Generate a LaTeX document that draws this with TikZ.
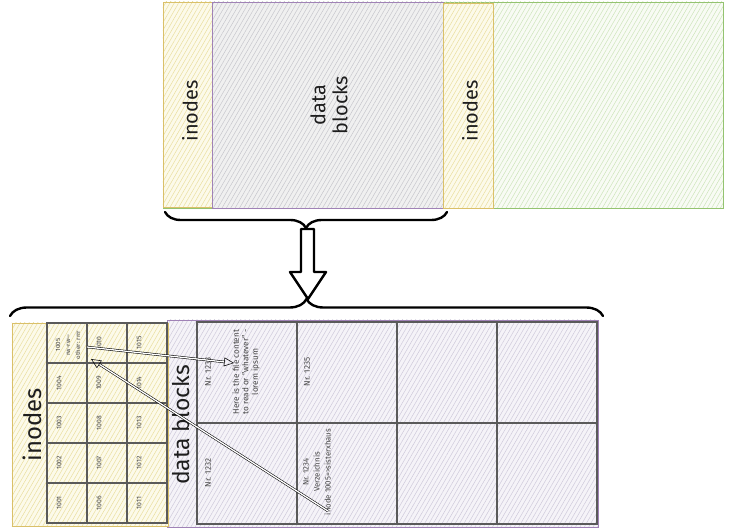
\documentclass[tikz,border=0pt]{standalone}
\usepackage{fontspec}
\setmainfont{Fira Sans}
\usetikzlibrary{patterns.meta,decorations.pathreplacing,arrows.meta}
\definecolor{ybord}{RGB}{218,192,105}
\definecolor{yfill}{RGB}{252,250,234}
\definecolor{yhatch}{RGB}{234,222,158}
\definecolor{pbord}{RGB}{160,130,182}
\definecolor{gyfill}{RGB}{240,240,240}
\definecolor{gyhatch}{RGB}{198,198,204}
\definecolor{gbord}{RGB}{148,195,112}
\definecolor{gfill}{RGB}{248,251,244}
\definecolor{ghatch}{RGB}{205,228,186}
\definecolor{pfill}{RGB}{245,243,248}
\definecolor{phatch}{RGB}{206,201,218}
\definecolor{gridc}{RGB}{90,90,90}
\definecolor{txt}{RGB}{30,30,30}
\definecolor{smalltxt}{RGB}{70,70,70}
\tikzset{
  area/.style={inner sep=0pt, line width=0.8pt},
  yelbox/.style={area, draw=ybord, preaction={fill=yfill}, pattern={Lines[angle=60,distance=3.8pt,line width=0.5pt]}, pattern color=yhatch},
  graybox/.style={area, draw=pbord, preaction={fill=gyfill}, pattern={Lines[angle=60,distance=3.8pt,line width=0.5pt]}, pattern color=gyhatch},
  greenbox/.style={area, draw=gbord, preaction={fill=gfill}, pattern={Lines[angle=60,distance=3.8pt,line width=0.5pt]}, pattern color=ghatch},
  purbox/.style={area, draw=pbord, preaction={fill=pfill}, pattern={Lines[angle=60,distance=3.8pt,line width=0.5pt]}, pattern color=phatch},
  icell/.style={draw=gridc, line width=1.1pt, inner sep=0pt, minimum width=40bp, minimum height=40bp},
  dcell/.style={draw=gridc, line width=1.1pt, inner sep=0pt, minimum width=100bp, minimum height=101bp},
  biglabel/.style={rotate=90, text=txt, font=\fontsize{20}{22}\selectfont, align=center, inner sep=0pt},
  hugelabel/.style={rotate=90, text=txt, font=\fontsize{23}{25}\selectfont, align=center, inner sep=0pt},
  tinylabel/.style={rotate=90, text=smalltxt, font=\fontsize{6.8}{8}\selectfont, align=center, inner sep=0pt},
  smalllabel/.style={rotate=90, text=smalltxt, font=\fontsize{8.2}{9.5}\selectfont, align=center, inner sep=0pt},
  bracestyle/.style={draw=black, line width=2.4pt, line cap=round, decorate, decoration={brace, amplitude=16bp}},
  linkarrow/.style={draw=black, line width=0.55pt, double=white, double distance=1.3pt, -{Triangle[open, length=10pt, width=9pt]}},
}
\begin{document}
\begin{tikzpicture}[x=1bp, y=-1bp]
\useasboundingbox[fill=white] (0,0) rectangle (733,532);
% ---------- top row ----------
\node[greenbox, minimum width=560bp, minimum height=206bp] (green) at (443,105) {};
\node[yelbox, minimum width=49bp, minimum height=205bp] (ino1) at (187.5,104.5) {};
\node[graybox, minimum width=231bp, minimum height=206bp] (db1) at (327.5,105) {};
\node[yelbox, minimum width=50bp, minimum height=205bp] (ino2) at (468,105.5) {};
\node[biglabel] (ino1t) at (190,111) {inodes};
\node[biglabel] (db1t) at (329,105) {data\\blocks};
\node[biglabel] (ino2t) at (470,111) {inodes};
% ---------- braces and arrow ----------
\coordinate (b1r) at (447,212);
\coordinate (b1l) at (165,212);
\draw[bracestyle] (b1r) -- (b1l);
\draw[line width=2.4pt, line join=round, fill=white]
  (301,229) -- (314,229) -- (314,272) -- (326,272) -- (308,299) -- (290,272) -- (301,272) -- cycle;
\coordinate (b2l) at (10,316);
\coordinate (b2r) at (603,316);
\draw[bracestyle, decoration={brace, amplitude=17bp}] (b2l) -- (b2r);
% ---------- bottom row ----------
\node[purbox, minimum width=431bp, minimum height=207bp] (db3) at (382.5,423.5) {};
\node[yelbox, minimum width=156bp, minimum height=203bp] (ino3) at (90,424.5) {};
\node[hugelabel, font=\fontsize{24}{26}\selectfont] (ino3t) at (32,425) {inodes};
% inode cells
\foreach \c in {0,1,2}{
  \foreach \r in {0,...,4}{
    \pgfmathtruncatemacro{\num}{1005+5*\c-\r}
    \node[icell] (i\num) at ({67+40*\c},{343+40*\r}) {};
  }
}
\foreach \c in {0,1,2}{
  \foreach \r in {1,...,4}{
    \pgfmathtruncatemacro{\num}{1005+5*\c-\r}
    \node[tinylabel] (t\num) at ({59+40*\c},{343+40*\r}) {\num};
  }
}
\node[tinylabel] (t1010) at (99,343) {1010};
\node[tinylabel] (t1015) at (139,343) {1015};
\node[tinylabel, font=\fontsize{6.2}{10}\selectfont] (t1005) at (68,345) {1005\\rw-rw---\\other: rrrr};
% data block cells
\node[dcell] (d1233) at (247,372.5) {};
\node[dcell] (d1235) at (347,372.5) {};
\node[dcell] (dA) at (447,372.5) {};
\node[dcell] (dB) at (547,372.5) {};
\node[dcell] (d1232) at (247,473.5) {};
\node[dcell] (d1234) at (347,473.5) {};
\node[dcell] (dC) at (447,473.5) {};
\node[dcell] (dD) at (547,473.5) {};
\node[hugelabel] (db3t) at (181,425) {data blocks};
\node[smalllabel] (n1233) at (208,372) {Nr. 1233};
\node[smalllabel] (c1233) at (246,372) {Here is the file content\\to read or "whatever" -\\lorem ipsum};
\node[smalllabel] (n1235) at (307,372) {Nr. 1235};
\node[smalllabel] (n1232) at (208,473) {Nr. 1232};
\node[smalllabel, font=\fontsize{7.8}{11}\selectfont] (c1234) at (317,472) {Nr. 1234\\Verzeichnis\\inode 1005=>sisterxhaus};
% links
\coordinate (a1s) at (87,347);
\coordinate (a1e) at (234,363);
\coordinate (a2s) at (328,511);
\coordinate (a2e) at (91,359);
\draw[linkarrow] (a1s) -- (a1e);
\draw[linkarrow] (a2s) -- (a2e);
\end{tikzpicture}
\end{document}
